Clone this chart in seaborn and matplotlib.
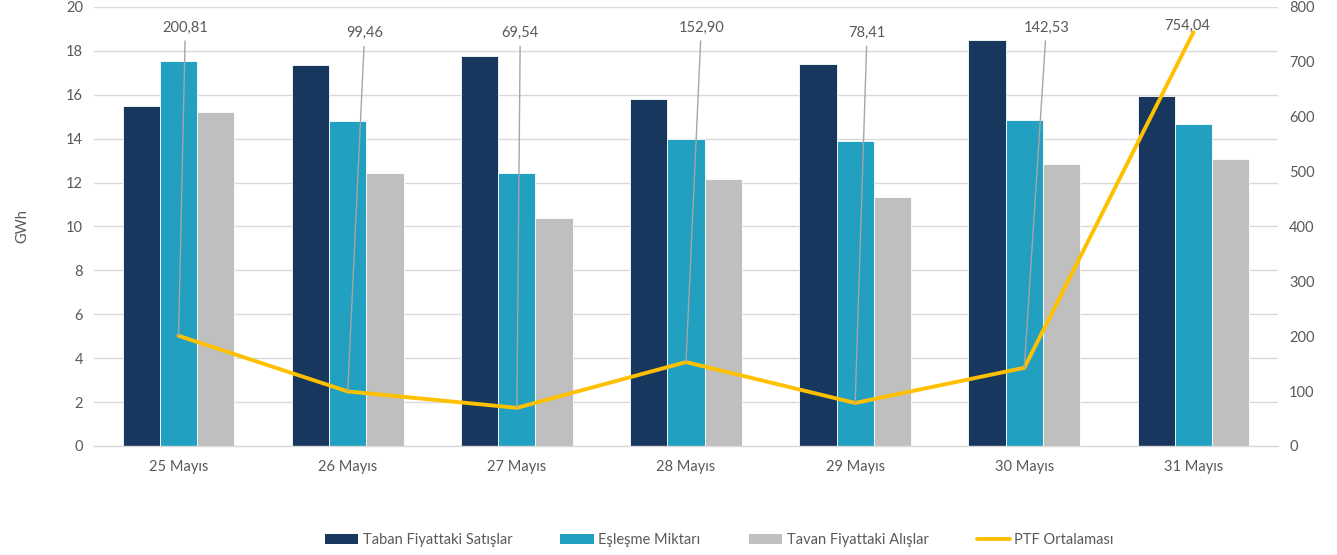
import numpy as np
import pandas as pd
import matplotlib
matplotlib.use("Agg")
import matplotlib.pyplot as plt
import seaborn as sns
from matplotlib.patches import Patch
from matplotlib.lines import Line2D

days = ["25 Mayıs", "26 Mayıs", "27 Mayıs", "28 Mayıs", "29 Mayıs", "30 Mayıs", "31 Mayıs"]
taban = [15.49, 17.36, 17.77, 15.81, 17.40, 18.50, 15.95]
eslesme = [17.54, 14.81, 12.44, 13.99, 13.90, 14.85, 14.67]
tavan = [15.22, 12.44, 10.39, 12.16, 11.34, 12.85, 13.08]
ptf = [200.81, 99.46, 69.54, 152.90, 78.41, 142.53, 754.04]
ptf_labels = ["200,81", "99,46", "69,54", "152,90", "78,41", "142,53", "754,04"]
series_names = ["Taban Fiyattaki Satışlar", "Eşleşme Miktarı", "Tavan Fiyattaki Alışlar"]
line_name = "PTF Ortalaması"

# label placement (style)
label_dx = [0.04, 0.10, 0.02, 0.09, 0.07, 0.13, -0.04]
label_y = [762, 752, 752, 762, 752, 762, 766]

colors = ["#17375E", "#21A0C1", "#BFBFBF"]
line_color = "#FFC000"
text_color = "#595959"
grid_color = "#D9D9D9"

sns.set_theme(style="white")
plt.rcParams["font.family"] = ["Lato", "DejaVu Sans"]

df = pd.DataFrame({
    "day": days * 3,
    "value": taban + eslesme + tavan,
    "series": [series_names[0]] * 7 + [series_names[1]] * 7 + [series_names[2]] * 7,
})

fig = plt.figure(figsize=(13.37, 5.55), dpi=100)
ax = fig.add_axes([0.0703, 0.1964, 0.8856, 0.7910])

sns.barplot(data=df, x="day", y="value", hue="series", palette=colors,
            saturation=1, width=0.66, gap=0, edgecolor="white", linewidth=0.6,
            ax=ax, legend=False, zorder=2)

ax2 = ax.twinx()
ldf = pd.DataFrame({"x": np.arange(len(days)), "ptf": ptf})
sns.lineplot(data=ldf, x="x", y="ptf", color=line_color, linewidth=2.8, ax=ax2,
             zorder=3, solid_joinstyle="round", solid_capstyle="round")

ax.set_ylim(0, 20)
ax.set_yticks(np.arange(0, 21, 2))
ax2.set_ylim(0, 800)
ax2.set_yticks(np.arange(0, 801, 100))
ax.set_xlim(-0.5, len(days) - 0.5)
ax2.set_xlim(-0.5, len(days) - 0.5)
ax.set_xticks(np.arange(len(days)))
ax.set_xticklabels(days)

ax.yaxis.grid(True, color=grid_color, linewidth=1.0, zorder=0)
ax.set_axisbelow(True)
ax2.grid(False)

for a in (ax, ax2):
    for s in ["top", "left", "right"]:
        a.spines[s].set_visible(False)
    a.spines["bottom"].set_color(grid_color)
    a.spines["bottom"].set_linewidth(1.0)
    a.tick_params(axis="y", length=0, labelsize=10.5, labelcolor=text_color, pad=8)
    a.set_xlabel("")
ax2.set_ylabel("")
ax2.spines["bottom"].set_visible(False)

ax.tick_params(axis="x", which="major", length=0, labelsize=10.5, labelcolor=text_color, pad=10)
ax.set_xticks(np.arange(-0.5, len(days), 1.0), minor=True)
ax.tick_params(axis="x", which="minor", length=5, color=grid_color, width=1.0)
ax2.tick_params(axis="x", which="both", length=0, labelbottom=False)

ax.set_ylabel("GWh", color=text_color, fontsize=10.5, labelpad=26)
ax.set_xlabel("")

for i, (v, lab) in enumerate(zip(ptf, ptf_labels)):
    if i == len(ptf) - 1:
        ax2.annotate(lab, xy=(i, v), xytext=(i + label_dx[i], label_y[i]),
                     ha="center", va="center", fontsize=10.5, color=text_color)
    else:
        ax2.annotate(lab, xy=(i, v), xytext=(i + label_dx[i], label_y[i]),
                     ha="center", va="center", fontsize=10.5, color=text_color,
                     arrowprops=dict(arrowstyle="-", color="#A6A6A6", lw=1.0,
                                     shrinkA=2, shrinkB=0))

handles = [Patch(facecolor=c, edgecolor="none") for c in colors]
handles.append(Line2D([0], [0], color=line_color, lw=2.8))
fig.legend(handles, series_names + [line_name], loc="center",
           bbox_to_anchor=(0.538, 0.027), ncol=4, frameon=False,
           fontsize=10.5, labelcolor=text_color, handlelength=2.3,
           handleheight=0.7, handletextpad=0.3, columnspacing=3.3)

fig.savefig("out.png", dpi=100)
